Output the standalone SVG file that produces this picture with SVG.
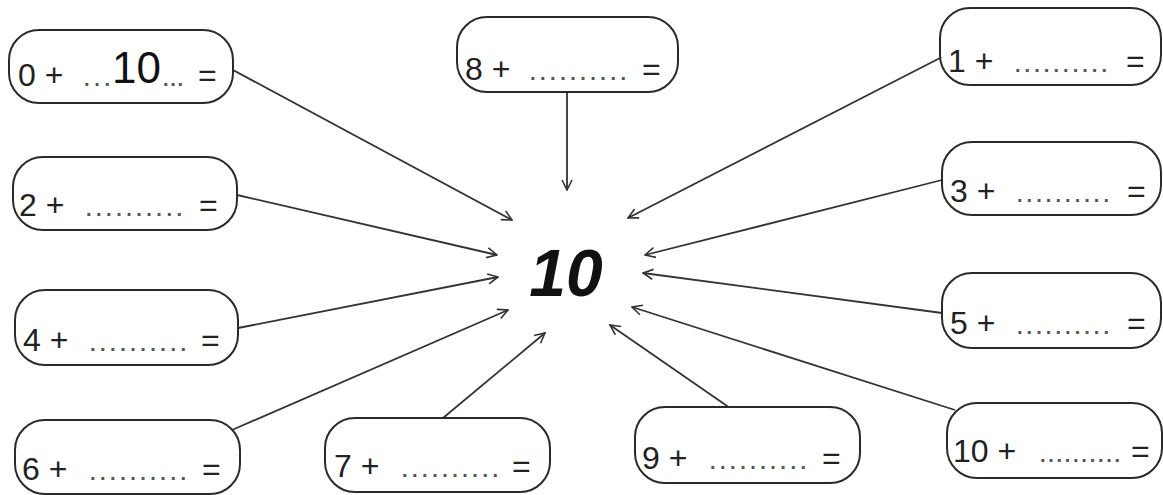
<svg xmlns="http://www.w3.org/2000/svg" width="1163" height="495" viewBox="0 0 1163 495">
<style>
.box{fill:#fff;stroke:#2a2a2a;stroke-width:2}
.t{font-family:"Liberation Sans",Arial,sans-serif;font-size:32px;fill:#222}
.d{font-family:"Liberation Sans",Arial,sans-serif;font-size:20px;font-weight:bold;fill:#555}
.c{stroke:#333;stroke-width:1.8;fill:none}
</style>
<defs>
<marker id="a" viewBox="0 0 12 12" refX="11" refY="6" markerWidth="12" markerHeight="12" markerUnits="userSpaceOnUse" orient="auto">
<path d="M1,1 L11,6 L1,11" fill="none" stroke="#333" stroke-width="1.6"/>
</marker>
</defs>
<rect width="1163" height="495" fill="#fff"/>
<g id="connectors">
<line class="c" x1="233" y1="70" x2="512" y2="220" marker-end="url(#a)"/>
<line class="c" x1="567" y1="92" x2="567" y2="190" marker-end="url(#a)"/>
<line class="c" x1="940" y1="58" x2="628" y2="218" marker-end="url(#a)"/>
<line class="c" x1="237" y1="195" x2="497" y2="255" marker-end="url(#a)"/>
<line class="c" x1="942" y1="180" x2="645" y2="255" marker-end="url(#a)"/>
<line class="c" x1="238" y1="328" x2="498" y2="277" marker-end="url(#a)"/>
<line class="c" x1="942" y1="313" x2="643" y2="273" marker-end="url(#a)"/>
<line class="c" x1="232" y1="430" x2="508" y2="310" marker-end="url(#a)"/>
<line class="c" x1="443" y1="418" x2="545" y2="333" marker-end="url(#a)"/>
<line class="c" x1="730" y1="408" x2="610" y2="325" marker-end="url(#a)"/>
<line class="c" x1="955" y1="410" x2="632" y2="307" marker-end="url(#a)"/>
</g>
<g id="center">
<text x="566" y="296" text-anchor="middle" font-family="'Liberation Sans',Arial,sans-serif" font-size="66" font-weight="bold" font-style="italic" fill="#111">10</text>
</g>
<g id="n0">
<rect class="box" x="9" y="30" width="224" height="73" rx="30"/>
<text class="t" x="18" y="86">0 +</text>
<text class="d" x="84" y="86" textLength="26" lengthAdjust="spacing">...</text>
<text class="d" x="163" y="86" textLength="20" lengthAdjust="spacing">...</text>
<text class="t" x="198" y="86">=</text>
<text x="112" y="83" font-family="'Liberation Sans',Arial,sans-serif" font-size="44" fill="#111">10</text>
</g>
<g id="n8">
<rect class="box" x="457" y="17" width="221" height="75" rx="30"/>
<text class="t" x="465" y="80">8 +</text>
<text class="d" x="530" y="80" textLength="96" lengthAdjust="spacing">..........</text>
<text class="t" x="642" y="80">=</text>
</g>
<g id="n1">
<rect class="box" x="940" y="8" width="221" height="77" rx="30"/>
<text class="t" x="948" y="72">1 +</text>
<text class="d" x="1015" y="72" textLength="92" lengthAdjust="spacing">..........</text>
<text class="t" x="1126" y="72">=</text>
</g>
<g id="n2">
<rect class="box" x="13" y="157" width="224" height="73" rx="30"/>
<text class="t" x="19" y="216">2 +</text>
<text class="d" x="86" y="216" textLength="96" lengthAdjust="spacing">..........</text>
<text class="t" x="199" y="216">=</text>
</g>
<g id="n3">
<rect class="box" x="942" y="142" width="219" height="73" rx="30"/>
<text class="t" x="950" y="202">3 +</text>
<text class="d" x="1017" y="202" textLength="92" lengthAdjust="spacing">..........</text>
<text class="t" x="1127" y="202">=</text>
</g>
<g id="n4">
<rect class="box" x="15" y="290" width="223" height="75" rx="30"/>
<text class="t" x="23" y="351">4 +</text>
<text class="d" x="90" y="351" textLength="96" lengthAdjust="spacing">..........</text>
<text class="t" x="201" y="351">=</text>
</g>
<g id="n5">
<rect class="box" x="942" y="273" width="219" height="75" rx="30"/>
<text class="t" x="950" y="334">5 +</text>
<text class="d" x="1017" y="334" textLength="92" lengthAdjust="spacing">..........</text>
<text class="t" x="1127" y="334">=</text>
</g>
<g id="n6">
<rect class="box" x="15" y="420" width="225" height="74" rx="30"/>
<text class="t" x="22" y="480">6 +</text>
<text class="d" x="90" y="480" textLength="96" lengthAdjust="spacing">..........</text>
<text class="t" x="202" y="480">=</text>
</g>
<g id="n7">
<rect class="box" x="325" y="418" width="225" height="74" rx="30"/>
<text class="t" x="334" y="477">7 +</text>
<text class="d" x="402" y="477" textLength="96" lengthAdjust="spacing">..........</text>
<text class="t" x="512" y="477">=</text>
</g>
<g id="n9">
<rect class="box" x="635" y="407" width="225" height="76" rx="30"/>
<text class="t" x="642" y="469">9 +</text>
<text class="d" x="710" y="469" textLength="96" lengthAdjust="spacing">..........</text>
<text class="t" x="822" y="469">=</text>
</g>
<g id="n10">
<rect class="box" x="947" y="403" width="215" height="75" rx="30"/>
<text class="t" x="953" y="462">10 +</text>
<text class="d" x="1040" y="462" textLength="80" lengthAdjust="spacing">..........</text>
<text class="t" x="1131" y="462">=</text>
</g>
</svg>
